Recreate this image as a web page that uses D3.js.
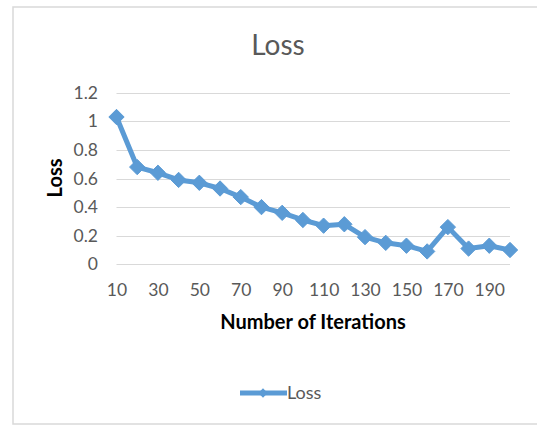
<!DOCTYPE html>
<html><head><meta charset="utf-8">
<script src="https://cdn.jsdelivr.net/npm/d3@7"></script>
<style>body{margin:0;background:#fff;}svg{display:block;}</style>
</head><body>
<svg id="c" width="537" height="425"></svg>
<script>
const iterations = [10,20,30,40,50,60,70,80,90,100,110,120,130,140,150,160,170,180,190,200];
const loss = [1.03,0.68,0.64,0.59,0.57,0.53,0.47,0.40,0.36,0.31,0.27,0.28,0.19,0.15,0.13,0.09,0.26,0.11,0.13,0.10];
const yTicks = [0,0.2,0.4,0.6,0.8,1,1.2];
const xTickLabels = [10,30,50,70,90,110,130,150,170,190];
const title = "Loss", xTitle = "Number of Iterations", yTitle = "Loss", seriesName = "Loss";

const svg = d3.select("#c");
const font = "Lato, 'Open Sans', sans-serif";
const blue = "#5B9BD5";

svg.append("rect").attr("x",13).attr("y",7).attr("width",530).attr("height",417)
  .attr("fill","#fff").attr("stroke","#D9D9D9").attr("stroke-width",1.5);

const x = d3.scalePoint().domain(iterations).range([116.5,510]);
const y = d3.scaleLinear().domain([0,1.2]).range([264.3,92.7]);

svg.append("g").selectAll("line").data(yTicks).join("line")
  .attr("x1",116.5).attr("x2",510).attr("y1",d=>Math.round(y(d))+0.5).attr("y2",d=>Math.round(y(d))+0.5)
  .attr("stroke","#D9D9D9").attr("stroke-width",1);

const yAxis = d3.axisLeft(y).tickValues(yTicks).tickSize(0).tickPadding(0).tickFormat(d=>d3.format("")(d));
const gy = svg.append("g").attr("transform","translate(98,0)").call(yAxis);
gy.select(".domain").remove();
gy.selectAll("text").attr("font-family",font).attr("font-size",17.5).attr("fill","#595959");

const xAxis = d3.axisBottom(x).tickValues(xTickLabels).tickSize(0).tickPadding(0);
const gx = svg.append("g").attr("transform","translate(0,284)").call(xAxis);
gx.select(".domain").remove();
gx.selectAll("text").attr("font-family",font).attr("font-size",17.5).attr("fill","#595959");

svg.append("text").attr("x",278).attr("y",55).attr("text-anchor","middle")
  .attr("font-family",font).attr("font-size",28).attr("fill","#595959").text(title);
svg.append("text").attr("x",313).attr("y",329).attr("text-anchor","middle")
  .attr("font-family",font).attr("font-weight","bold").attr("font-size",20).attr("fill","#000").text(xTitle);
svg.append("text").attr("transform","translate(62,178) rotate(-90)").attr("text-anchor","middle")
  .attr("font-family",font).attr("font-weight","bold").attr("font-size",20).attr("fill","#000").text(yTitle);

const data = iterations.map((d,i)=>({it:d,v:loss[i]}));
svg.append("path").datum(data)
  .attr("d",d3.line().x(d=>x(d.it)).y(d=>y(d.v)))
  .attr("fill","none").attr("stroke",blue).attr("stroke-width",5).attr("stroke-linejoin","round");
const diamond = d3.symbol().type(d3.symbolDiamond2).size(150);
svg.append("g").selectAll("path").data(data).join("path")
  .attr("transform",d=>`translate(${x(d.it)},${y(d.v)})`)
  .attr("d",diamond).attr("fill",blue).attr("stroke",blue).attr("stroke-width",1);

svg.append("line").attr("x1",240).attr("x2",287).attr("y1",393).attr("y2",393)
  .attr("stroke",blue).attr("stroke-width",5);
svg.append("path").attr("transform","translate(263,393)").attr("d",d3.symbol().type(d3.symbolDiamond2).size(55)).attr("fill",blue);
svg.append("text").attr("x",287).attr("y",399).attr("font-family",font).attr("font-size",18)
  .attr("fill","#595959").text(seriesName);
</script>
</body></html>
